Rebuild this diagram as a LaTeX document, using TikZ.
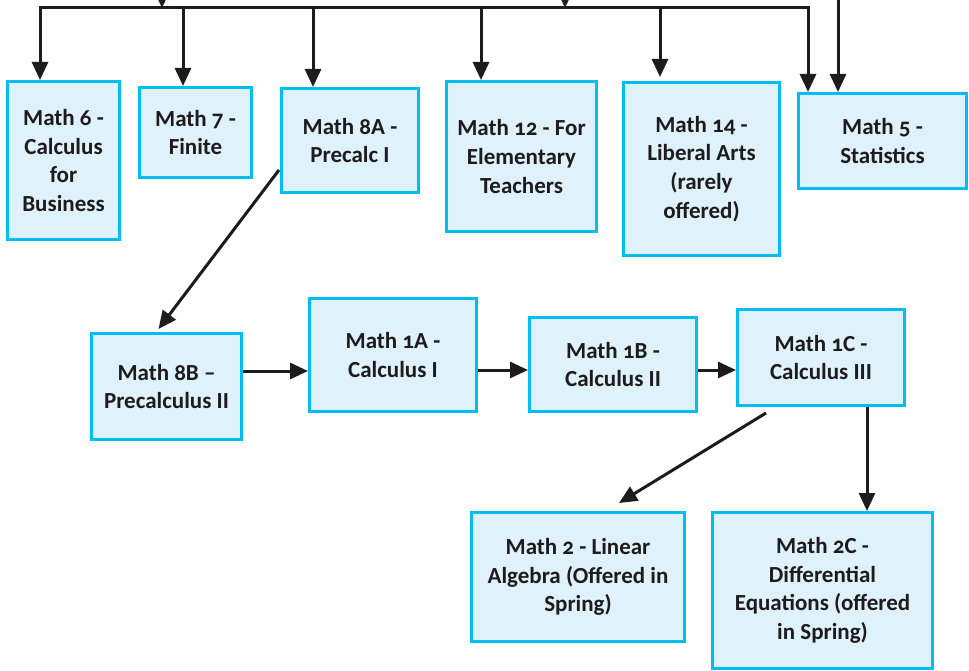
\documentclass[tikz,border=0pt]{standalone}
\usepackage{fontspec}
\setmainfont{Carlito}[Numbers=OldStyle]
\usetikzlibrary{arrows.meta,calc}
\definecolor{boxfill}{RGB}{223,241,251}
\definecolor{boxline}{RGB}{0,190,242}
\definecolor{ink}{RGB}{30,27,28}
\begin{document}
\begin{tikzpicture}[x=1pt,y=-1pt,
  course/.style={draw=boxline,fill=boxfill,line width=3pt,align=center,text=ink,
    font=\bfseries\fontsize{23}{28.7}\selectfont,inner sep=0pt},
  arr/.style={draw=ink,line width=3pt,-{Triangle[length=18pt,width=16pt]}},
  arrtwo/.style={draw=ink,line width=3pt,{Triangle[length=18pt,width=16pt]}-{Triangle[length=18pt,width=16pt]}}]
\useasboundingbox (0,0) rectangle (969,671);
\clip (0,0) rectangle (969,671);

% top row
\node[course,minimum width=112pt,minimum height=158pt] (m6) at (63.5,160.5) {Math 6 -\\Calculus\\for\\Business};
\node[course,minimum width=112pt,minimum height=90pt] (m7) at (195.5,132.5) {Math 7 -\\Finite};
\node[course,minimum width=137pt,minimum height=104pt] (m8a) at (350,140.5) {Math 8A -\\Precalc I};
\node[course,minimum width=150pt,minimum height=150pt] (m12) at (521.5,156.5) {Math 12 - For\\Elementary\\Teachers};
\node[course,minimum width=156pt,minimum height=173pt] (m14) at (701.5,169) {Math 14 -\\Liberal Arts\\(rarely\\offered)};
\node[course,minimum width=168pt,minimum height=95pt] (m5) at (882.5,141) {Math 5 -\\Statistics};

% middle row
\node[course,minimum width=150pt,minimum height=106pt] (m8b) at (166.5,386.5) {Math 8B –\\Precalculus II};
\node[course,minimum width=167pt,minimum height=113pt] (m1a) at (393,355) {Math 1A -\\Calculus I};
\node[course,minimum width=167pt,minimum height=94pt] (m1b) at (613,364.5) {Math 1B -\\Calculus II};
\node[course,minimum width=167pt,minimum height=96pt] (m1c) at (821,357.5) {Math 1C -\\Calculus III};

% bottom row
\node[course,minimum width=213pt,minimum height=129pt] (m2) at (578,577) {Math 2 - Linear\\Algebra (Offered in\\Spring)};
\node[course,minimum width=220pt,minimum height=156pt] (m2c) at (822.5,590.5) {Math 2C -\\Differential\\Equations (offered\\in Spring)};

% bus at the top
\coordinate (b6) at (40,8);
\coordinate (b7) at (183,8);
\coordinate (b8) at (313,8);
\coordinate (b12) at (481,8);
\coordinate (b14) at (660,8);
\coordinate (bR) at (808,8);
\coordinate (in1) at (162,-30);
\coordinate (in2) at (565,-30);
\coordinate (in3) at (838,-30);

\draw[arrtwo] (b6 |- m6.north) -- (b6) -- (bR) -- (bR |- m5.north);
\draw[arr] (b7) -- (b7 |- m7.north);
\draw[arr] (b8) -- (b8 |- m8a.north);
\draw[arr] (b12) -- (b12 |- m12.north);
\draw[arr] (b14) -- ($(b14 |- m14.north)+(0,-4)$);
\draw[arr] (in1) -- (in1 |- b6);
\draw[arr] (in2) -- (in2 |- b6);
\draw[arr] (in3) -- (in3 |- m5.north);

% diagonal 8A -> 8B
\coordinate (d1) at (279,170);
\draw[arr] (d1) -- ($(m8b.north)+(-8,-3)$);

% horizontal chain
\coordinate (h1) at (0,371);
\coordinate (h2) at (0,370);
\draw[arr] (m8b.east |- h1) -- (m1a.west |- h1);
\draw[arr] (m1a.east |- h2) -- (m1b.west |- h2);
\draw[arr] (m1b.east |- h2) -- (m1c.west |- h2);

% from 1C
\coordinate (d2) at (766,413);
\draw[arr] (d2) -- ($(m2.north)+(41,-8)$);
\coordinate (v2c) at (867,0);
\draw[arr] (m1c.south -| v2c) -- (m2c.north -| v2c);
\end{tikzpicture}
\end{document}
